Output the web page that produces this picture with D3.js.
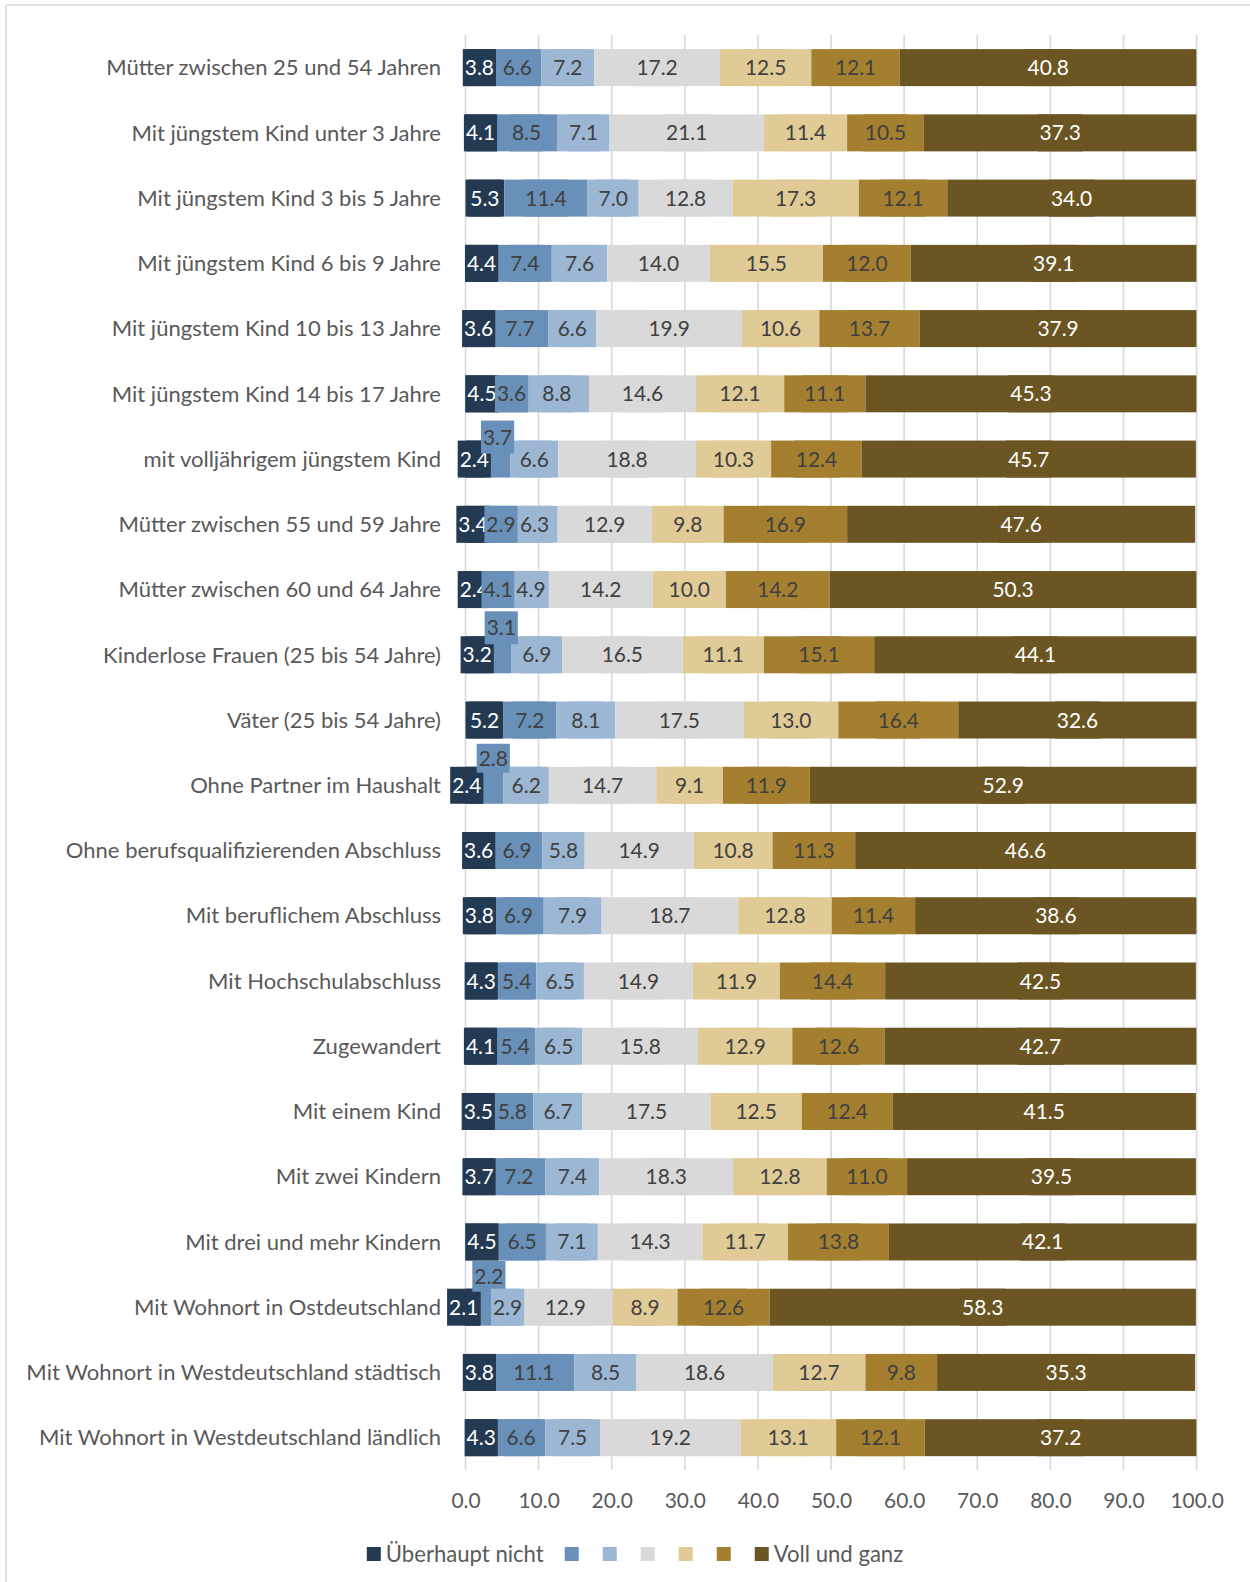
<!DOCTYPE html>
<html><head><meta charset="utf-8">
<script src="https://cdn.jsdelivr.net/npm/d3@7"></script>
<style>body{margin:0;background:#fff;} text{font-family:Lato,'Open Sans',sans-serif;}</style>
</head><body><svg id="c" width="1250" height="1582"></svg>
<script>
const categories = [
  "Mütter zwischen 25 und 54 Jahren",
  "Mit jüngstem Kind unter 3 Jahre",
  "Mit jüngstem Kind 3 bis 5 Jahre",
  "Mit jüngstem Kind 6 bis 9 Jahre",
  "Mit jüngstem Kind 10 bis 13 Jahre",
  "Mit jüngstem Kind 14 bis 17 Jahre",
  "mit volljährigem jüngstem Kind",
  "Mütter zwischen 55 und 59 Jahre",
  "Mütter zwischen 60 und 64 Jahre",
  "Kinderlose Frauen (25 bis 54 Jahre)",
  "Väter (25 bis 54 Jahre)",
  "Ohne Partner im Haushalt",
  "Ohne berufsqualifizierenden Abschluss",
  "Mit beruflichem Abschluss",
  "Mit Hochschulabschluss",
  "Zugewandert",
  "Mit einem Kind",
  "Mit zwei Kindern",
  "Mit drei und mehr Kindern",
  "Mit Wohnort in Ostdeutschland",
  "Mit Wohnort in Westdeutschland städtisch",
  "Mit Wohnort in Westdeutschland ländlich"
];
const s1 = [3.8,4.1,5.3,4.4,3.6,4.5,2.4,3.4,2.4,3.2,5.2,2.4,3.6,3.8,4.3,4.1,3.5,3.7,4.5,2.1,3.8,4.3];
const s2 = [6.6,8.5,11.4,7.4,7.7,3.6,3.7,2.9,4.1,3.1,7.2,2.8,6.9,6.9,5.4,5.4,5.8,7.2,6.5,2.2,11.1,6.6];
const s3 = [7.2,7.1,7.0,7.6,6.6,8.8,6.6,6.3,4.9,6.9,8.1,6.2,5.8,7.9,6.5,6.5,6.7,7.4,7.1,2.9,8.5,7.5];
const s4 = [17.2,21.1,12.8,14.0,19.9,14.6,18.8,12.9,14.2,16.5,17.5,14.7,14.9,18.7,14.9,15.8,17.5,18.3,14.3,12.9,18.6,19.2];
const s5 = [12.5,11.4,17.3,15.5,10.6,12.1,10.3,9.8,10.0,11.1,13.0,9.1,10.8,12.8,11.9,12.9,12.5,12.8,11.7,8.9,12.7,13.1];
const s6 = [12.1,10.5,12.1,12.0,13.7,11.1,12.4,16.9,14.2,15.1,16.4,11.9,11.3,11.4,14.4,12.6,12.4,11.0,13.8,12.6,9.8,12.1];
const s7 = [40.8,37.3,34.0,39.1,37.9,45.3,45.7,47.6,50.3,44.1,32.6,52.9,46.6,38.6,42.5,42.7,41.5,39.5,42.1,58.3,35.3,37.2];
const seriesNames = ["Überhaupt nicht","","","","","","Voll und ganz"];
const tickValues = [0,10,20,30,40,50,60,70,80,90,100];

// styles
const colors = ["#233a52","#6890b9","#9bb7d4","#d9d9d9","#e0ca95","#a37f2f","#6b5522"];
const textColors = ["#ffffff","#404040","#404040","#404040","#404040","#404040","#ffffff"];
// manual label placement tweaks (pixels), keyed "row|series"
const labelTweaks = {
  "6|1": {dx:1, dy:-22, h:33},
  "9|1": {dx:1, dy:-27, h:33},
  "11|1": {dx:0, dy:-27, h:29},
  "19|1": {dx:0, dy:-31, h:31},
  "7|0": {dx:-5},
  "11|0": {dx:-7.5},
  "19|0": {dx:-9.5}
};

const series = [s1,s2,s3,s4,s5,s6,s7];
const svg = d3.select("#c");
svg.append("rect").attr("width",1250).attr("height",1582).attr("fill","#fff");

function fitSize(txt, target, base){
  const t = svg.append("text").style("font-size", base+"px").text(txt);
  const w = t.node().getComputedTextLength(); t.remove();
  return base*target/w;
}
const catSize = fitSize("Mit Wohnort in Westdeutschland städtisch", 415, 20);
const numSize = fitSize("100.0", 53.5, 20);
const legSize = fitSize("Überhaupt nicht", 158, 20);

// frame
svg.append("line").attr("x1",6).attr("x2",1250).attr("y1",5).attr("y2",5).attr("stroke","#d9d9d9").attr("stroke-width",1.5);
svg.append("line").attr("x1",6).attr("x2",6).attr("y1",5).attr("y2",1582).attr("stroke","#d9d9d9").attr("stroke-width",1.5);

const x = d3.scaleLinear().domain([0,100]).range([465.5,1196.6]);
const y = d3.scaleBand().domain(categories).range([35,1470.3]).paddingInner(0.433).paddingOuter(0.2165);
const bh = y.bandwidth();

// gridlines
svg.append("g").selectAll("line").data(tickValues).join("line")
  .attr("x1",d=>x(d)).attr("x2",d=>x(d)).attr("y1",35).attr("y2",1470)
  .attr("stroke","#d9d9d9").attr("stroke-width",1.6);

// axis labels
const xAxis = d3.axisBottom(x).tickValues(tickValues).tickFormat(d3.format(".1f")).tickSize(0).tickPadding(0);
const ax = svg.append("g").attr("transform","translate(0,1493)").call(xAxis);
ax.select(".domain").remove();
ax.selectAll("text").attr("fill","#595959").style("font-size",numSize+"px").style("font-family","Lato");

// category labels
const yAxis = d3.axisLeft(y).tickSize(0).tickPadding(0);
const ay = svg.append("g").attr("transform","translate(441,0)").call(yAxis);
ay.select(".domain").remove();
ay.selectAll("text").attr("fill","#595959").style("font-size",catSize+"px").style("font-family","Lato").attr("dy","0.35em");

// stacked data
const rows = categories.map((c,i)=>{
  let acc=0;
  return series.map((s,k)=>{ const v=s[i]; const seg={cat:c,row:i,k,v,x0:acc,x1:acc+v}; acc+=v; return seg; });
});

svg.append("defs").append("clipPath").attr("id","clip").append("rect")
  .attr("x",0).attr("y",0).attr("width",x(100)).attr("height",1582);

const bars = svg.append("g").attr("clip-path","url(#clip)");
rows.forEach(r=>{
  bars.selectAll(null).data(r).join("rect")
    .attr("x",d=>x(d.x0)).attr("width",d=>Math.max(0,Math.min(x(d.x1),x(100))-x(d.x0)))
    .attr("y",d=>y(d.cat)).attr("height",bh).attr("fill",d=>colors[d.k]);
});

// labels with filled boxes
const labels = svg.append("g");
rows.forEach(r=>{
  r.forEach(d=>{
    const tw = labelTweaks[d.row+"|"+d.k] || {};
    const cx = (x(d.x0) + Math.min(x(d.x1),x(100)))/2 + (tw.dx||0);
    const cy = y(d.cat) + bh/2 + (tw.dy||0);
    const h = tw.h || bh;
    const g = labels.append("g");
    const rect = g.append("rect").attr("fill",colors[d.k]);
    const t = g.append("text").attr("x",cx).attr("y",cy).attr("dy","0.36em")
      .attr("text-anchor","middle").attr("fill",textColors[d.k])
      .style("font-size",numSize+"px").text(d3.format(".1f")(d.v));
    const w = t.node().getComputedTextLength()+4;
    rect.attr("x",cx-w/2).attr("width",w).attr("y",cy-h/2).attr("height",h);
  });
});

// legend
const leg = svg.append("g");
const sq = 14;
let lx = 0;
const items = [];
seriesNames.forEach((n,k)=>{
  const g = leg.append("g").attr("transform",`translate(${lx},0)`);
  g.append("rect").attr("x",0).attr("y",-sq/2).attr("width",sq).attr("height",sq).attr("fill",colors[k]);
  let w = sq;
  if(n){
    const t = g.append("text").attr("x",sq+5).attr("y",0).attr("dy","0.35em").attr("fill","#595959")
      .style("font-size",legSize+"px").text(n);
    w += 5 + t.node().getComputedTextLength();
    lx += w + 21;
  } else {
    lx += w + 24;
  }
});
const total = lx - 21;
leg.attr("transform",`translate(${635 - total/2},1554)`);
</script></body></html>
